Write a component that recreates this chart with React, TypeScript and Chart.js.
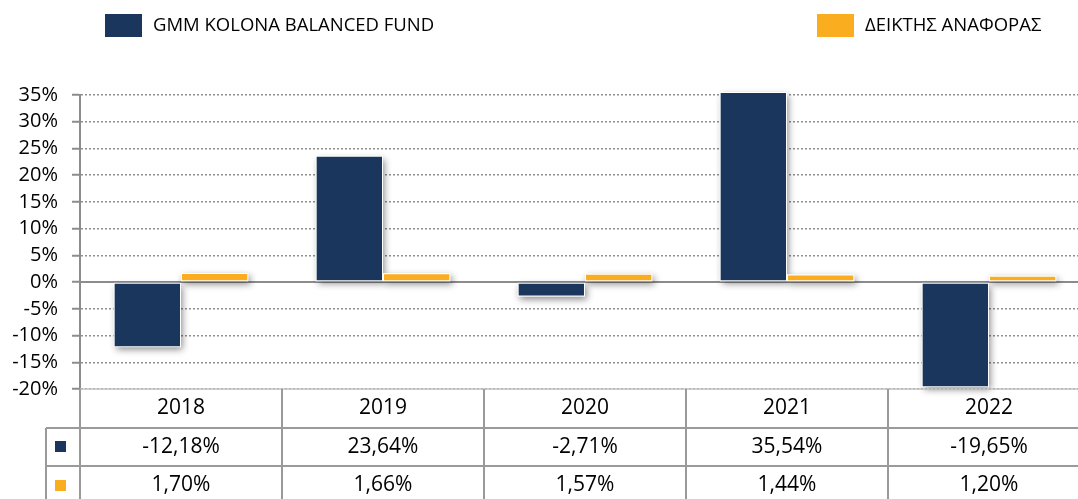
import React, { useEffect, useRef } from "react";
import { Chart, registerables } from "chart.js";

Chart.register(...registerables);

const categories = ["2018", "2019", "2020", "2021", "2022"];
const fundValues = [-12.18, 23.64, -2.71, 35.54, -19.65];
const indexValues = [1.7, 1.66, 1.57, 1.44, 1.2];
const seriesNames = ["GMM KOLONA BALANCED FUND", "ΔΕΙΚΤΗΣ ΑΝΑΦΟΡΑΣ"];
const yMin = -20;
const yMax = 35;
const yStep = 5;

const NAVY = "#1a365d";
const ORANGE = "#f9ad1f";
const FONT = "'Open Sans', 'Noto Sans', sans-serif";
const LINE = "#9a9a9a";

const fmt = (v: number) => v.toFixed(2).replace(".", ",") + "%";

const decorPlugin = {
  id: "decor",
  beforeDatasetsDraw(chart: any) {
    const { ctx, chartArea, scales } = chart;
    const y0 = scales.y.getPixelForValue(0);
    ctx.save();
    ctx.strokeStyle = "#8c8c8c";
    ctx.lineWidth = 2;
    ctx.beginPath();
    ctx.moveTo(chartArea.left, y0);
    ctx.lineTo(chartArea.right, y0);
    ctx.stroke();
    ctx.restore();

    // soft drop shadows behind each bar, placed from the bar elements
    ctx.save();
    ctx.shadowColor = "rgba(0,0,0,0.45)";
    ctx.shadowBlur = 7;
    ctx.shadowOffsetX = 2;
    ctx.shadowOffsetY = 3;
    ctx.fillStyle = "#ffffff";
    chart.data.datasets.forEach((_: any, di: number) => {
      const meta = chart.getDatasetMeta(di);
      meta.data.forEach((el: any) => {
        const p = el.getProps(["x", "y", "base", "width"], true);
        const top = Math.min(p.y, p.base);
        const h = Math.abs(p.base - p.y);
        ctx.fillRect(p.x - p.width / 2, top, p.width, h);
      });
    });
    ctx.restore();
  },
  afterDraw(chart: any) {
    const { ctx, chartArea, scales } = chart;
    const x = scales.x;
    const top = chartArea.bottom;
    const r1 = top + 39;
    const r2 = top + 77;
    const bottom = chart.height;
    const leftCol = 46;
    ctx.save();
    ctx.strokeStyle = "#c4c4c4";
    ctx.lineWidth = 1.5;
    ctx.beginPath();
    ctx.moveTo(chartArea.left, top);
    ctx.lineTo(chartArea.right, top);
    ctx.stroke();

    ctx.strokeStyle = LINE;
    ctx.lineWidth = 2;
    ctx.beginPath();
    ctx.moveTo(chartArea.left, top);
    ctx.lineTo(chartArea.left, bottom);
    for (let i = 1; i < categories.length; i++) {
      const xb = (x.getPixelForValue(i - 1) + x.getPixelForValue(i)) / 2;
      ctx.moveTo(xb, top);
      ctx.lineTo(xb, bottom);
    }
    ctx.moveTo(leftCol, r1);
    ctx.lineTo(chartArea.right, r1);
    ctx.moveTo(leftCol, r2);
    ctx.lineTo(chartArea.right, r2);
    ctx.moveTo(leftCol, r1);
    ctx.lineTo(leftCol, bottom);
    ctx.stroke();

    ctx.fillStyle = NAVY;
    ctx.fillRect(55, r1 + 13, 11, 11);
    ctx.fillStyle = ORANGE;
    ctx.fillRect(55, r2 + 14, 11, 11);

    ctx.fillStyle = "#000";
    ctx.font = `21px ${FONT}`;
    ctx.textAlign = "center";
    ctx.textBaseline = "middle";
    categories.forEach((c, i) => {
      const cx = x.getPixelForValue(i);
      ctx.fillText(c, cx, (top + r1) / 2);
      ctx.fillText(fmt(fundValues[i]), cx, (r1 + r2) / 2);
      ctx.fillText(fmt(indexValues[i]), cx, r2 + 19);
    });

    ctx.textAlign = "left";
    ctx.font = `18.5px ${FONT}`;
    ctx.fillStyle = NAVY;
    ctx.fillRect(105, 14, 37, 23);
    ctx.fillStyle = "#000";
    ctx.fillText(seriesNames[0], 153, 25.5);
    ctx.fillStyle = ORANGE;
    ctx.fillRect(817, 14, 37, 23);
    ctx.fillStyle = "#000";
    ctx.fillText(seriesNames[1], 865, 25.5);
    ctx.restore();
  },
};

export default function App() {
  const ref = useRef<HTMLCanvasElement | null>(null);
  useEffect(() => {
    if (!ref.current) return;
    const chart = new Chart(ref.current, {
      type: "bar",
      data: {
        labels: categories,
        datasets: [
          {
            label: seriesNames[0],
            data: fundValues,
            backgroundColor: NAVY,
            borderColor: "#ffffff",
            borderWidth: 1,
            borderSkipped: false,
            categoryPercentage: 2 / 3,
            barPercentage: 1,
            clip: 6,
          },
          {
            label: seriesNames[1],
            data: indexValues,
            backgroundColor: ORANGE,
            borderColor: "#ffffff",
            borderWidth: 1,
            borderSkipped: false,
            categoryPercentage: 2 / 3,
            barPercentage: 1,
            clip: 6,
          },
        ],
      },
      options: {
        animation: false,
        responsive: false,
        devicePixelRatio: 1,
        layout: { padding: { top: 95, bottom: 110, left: 0, right: 0 } },
        plugins: {
          legend: { display: false },
          tooltip: { enabled: false },
          title: { display: false },
        },
        scales: {
          x: { display: false },
          y: {
            min: yMin,
            max: yMax,
            afterFit: (scale: any) => {
              scale.width = 80;
            },
            ticks: {
              stepSize: yStep,
              autoSkip: false,
              padding: 14,
              color: "#000",
              font: { family: FONT, size: 20 },
              callback: (v: any) => `${v}%`,
            },
            grid: {
              color: (ctx: any) =>
                ctx.tick && ctx.tick.value === 0 ? "rgba(0,0,0,0)" : "#8f8f8f",
              lineWidth: 1.5,
              drawTicks: true,
              tickLength: 8,
              tickColor: "#8c8c8c",
              tickWidth: 2,
              tickBorderDash: [],
            },
            border: { display: true, color: "#8c8c8c", width: 2, dash: [2, 2] },
          },
        },
      },
      plugins: [decorPlugin],
    });
    return () => chart.destroy();
  }, []);
  return (
    <div
      style={{
        position: "absolute",
        left: 0,
        top: 0,
        width: 1078,
        height: 499,
        overflow: "hidden",
        background: "#fff",
      }}
    >
      <canvas ref={ref} width={1090} height={499} style={{ width: 1090, height: 499, display: "block" }} />
    </div>
  );
}
